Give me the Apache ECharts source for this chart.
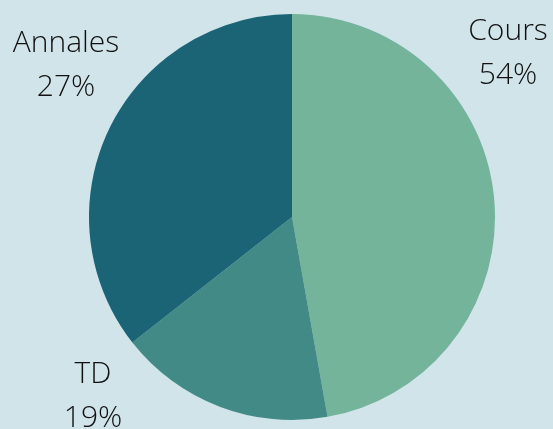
<!DOCTYPE html>
<html>
<head>
<meta charset="utf-8">
<script src="https://cdn.jsdelivr.net/npm/echarts@6/dist/echarts.min.js"></script>
<style>
  html, body { margin: 0; padding: 0; background: #d1e4ea; }
  #main { width: 553px; height: 429px; }
</style>
</head>
<body>
<div id="main"></div>
<script>
// données (parts réelles des secteurs)
var categories = ['Cours', 'TD', 'Annales'];
var values = [47.2, 17.2, 35.6];
// pourcentages affichés dans les étiquettes
var pctLabels = ['54%', '19%', '27%'];
var colors = ['#73b49b', '#428a85', '#1a6475'];

// position des étiquettes (centre du bloc de texte)
var labelPos = [[508, 53], [93, 396], [66, 65]];

var myChart = echarts.init(document.getElementById('main'));

var option = {
  backgroundColor: '#d1e4ea',
  color: colors,
  series: [{
    type: 'pie',
    center: [292, 217],
    radius: [0, 203],
    startAngle: 90,
    clockwise: true,
    animation: false,
    data: categories.map(function (c, i) {
      return { name: c, value: values[i] };
    }),
    label: {
      show: true,
      position: 'inside',
      overflow: 'none',
      formatter: function (p) {
        return p.name + '\n' + pctLabels[p.dataIndex];
      },
      color: '#111',
      fontFamily: 'Open Sans',
      fontWeight: 300,
      fontSize: 30,
      lineHeight: 44,
      align: 'center'
    },
    labelLine: { show: false },
    labelLayout: function (params) {
      var pos = labelPos[params.dataIndex];
      return { x: pos[0], y: pos[1], align: 'center', verticalAlign: 'middle', hideOverlap: false };
    },
    emphasis: { disabled: true }
  }]
};

myChart.setOption(option);
window.onresize = myChart.resize;
</script>
</body>
</html>
